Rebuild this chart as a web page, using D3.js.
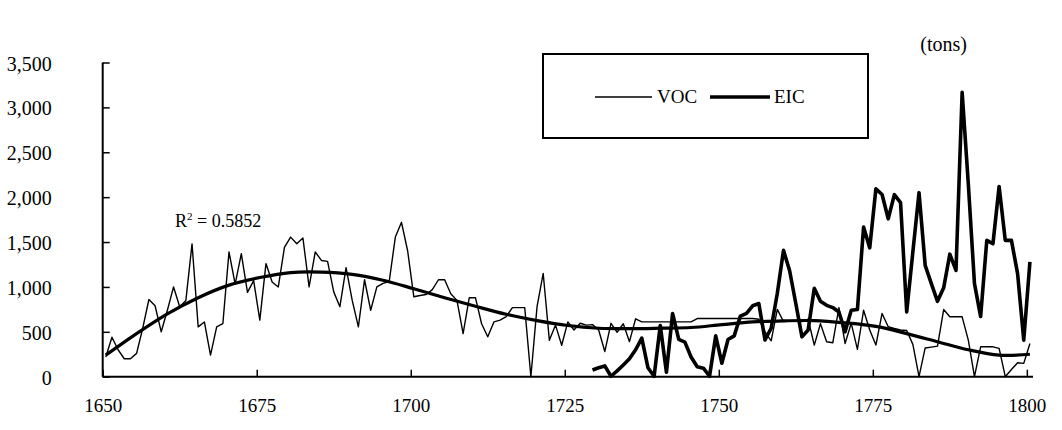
<!DOCTYPE html>
<html>
<head>
<meta charset="utf-8">
<script src="https://cdn.jsdelivr.net/npm/d3@7"></script>
<style>
  html, body { margin: 0; padding: 0; background: #fff; }
  svg { display: block; }
  text { font-family: "Liberation Serif", "Times New Roman", serif; fill: #000; }
</style>
</head>
<body>
<svg id="chart" width="1062" height="430"></svg>
<script>
// ---- data ----
const vocStartYear = 1650;
const vocValues = [
  220, 440, 300, 200, 200, 260, 540, 860, 790, 500,      // 1650-1659
  740, 1000, 780, 850, 1480, 555, 610, 240, 555, 590,    // 1660-1669
  1390, 1030, 1370, 940, 1070, 630, 1260, 1055, 1000, 1440, // 1670-1679
  1555, 1480, 1545, 1000, 1390, 1295, 1285, 945, 780, 1215, // 1680-1689
  850, 555, 1080, 740, 1000, 1040, 1060, 1555, 1720, 1400,  // 1690-1699
  890, 905, 915, 970, 1080, 1080, 925, 850, 480, 880,    // 1700-1709
  880, 590, 445, 610, 630, 670, 770, 770, 770, 0,        // 1710-1719
  780, 1150, 405, 575, 350, 610, 520, 595, 575, 580,     // 1720-1729
  520, 280, 595, 495, 590, 390, 645, 611, 611, 611,      // 1730-1739
  611, 611, 611, 611, 611, 611, 648, 648, 648, 648,      // 1740-1749
  648, 648, 648, 648, 648, 648, 640, 500, 400, 750,      // 1750-1759
  615, 620, 620, 615, 640, 352, 590, 389, 378, 770,      // 1760-1769
  370, 595, 304, 740, 520, 352, 704, 556, 537, 520,      // 1770-1779
  515, 360, 0, 320, 330, 340, 748, 667, 667, 667,        // 1780-1789
  407, 0, 333, 333, 333, 315, 0, 80, 155, 148,           // 1790-1799
  370                                                    // 1800
];
const eicStartYear = 1729;
const eicValues = [
  75,                                                    // 1729
  100, 120, 5, 65, 130, 200, 300, 430, 100, 5,           // 1730-1739
  570, 50, 704, 415, 385, 220, 110, 95, 5, 455,          // 1740-1749
  150, 415, 455, 675, 705, 790, 815, 410, 540, 930,      // 1750-1759
  1407, 1180, 815, 444, 520, 985, 840, 795, 770, 720,    // 1760-1769
  500, 741, 748, 1667, 1435, 2093, 2030, 1759, 2028, 1940, // 1770-1779
  722, 1390, 2050, 1240, 1037, 840, 990, 1365, 1185, 3167, // 1780-1789
  2148, 1037, 670, 1519, 1481, 2119, 1519, 1519, 1148, 407, // 1790-1799
  1278                                                   // 1800
];
// polynomial trendline of VOC (every 5 years)
const trendYears = [1650,1655,1660,1665,1670,1675,1680,1685,1690,1695,1700,1705,1710,1715,1720,1725,1730,1735,1740,1745,1750,1755,1760,1765,1770,1775,1780,1785,1790,1795,1800];
const trendValues = [240,480,700,880,1020,1105,1160,1165,1140,1075,980,880,785,695,625,570,540,535,540,548,580,610,622,625,600,560,480,390,300,240,250];

const xTickYears = [1650, 1675, 1700, 1725, 1750, 1775, 1800];
const yTickValues = [0, 500, 1000, 1500, 2000, 2500, 3000, 3500];
const seriesNames = ["VOC", "EIC"];
const unitLabel = "(tons)";
const r2Label = "0.5852";

// ---- build ----
const voc = vocValues.map((v, i) => ({ year: vocStartYear + i, value: v }));
const eic = eicValues.map((v, i) => ({ year: eicStartYear + i, value: v }));
const trend = trendYears.map((yr, i) => ({ year: yr, value: trendValues[i] }));

const svg = d3.select("#chart");
const x = d3.scaleLinear().domain([1650, 1801]).range([102.7, 1033]);
const y = d3.scaleLinear().domain([0, 3500]).range([376.7, 62.5]);
const px = d => x(d.year + 0.5);

// axes
const yAxis = d3.axisLeft(y)
  .tickValues(yTickValues)
  .tickFormat(d3.format(","))
  .tickSizeInner(-7)
  .tickSizeOuter(0)
  .tickPadding(51);
const gy = svg.append("g").attr("transform", "translate(102.7,0)").call(yAxis);
gy.select(".domain").attr("stroke", "#000").attr("stroke-width", 2)
  .attr("d", `M0,${y(3500)}V${y(0)}`);
gy.selectAll(".tick line").attr("stroke", "#000").attr("stroke-width", 1.5);
gy.selectAll(".tick text")
  .style("font-family", "'Liberation Serif', serif")
  .style("font-size", "20px")
  .attr("fill", "#000")
  .attr("dy", "0.38em");

const xAxis = d3.axisBottom(x)
  .tickValues(xTickYears)
  .tickFormat(d3.format("d"))
  .tickSizeInner(-7)
  .tickSizeOuter(0)
  .tickPadding(32);
const gx = svg.append("g").attr("transform", `translate(0,${y(0)})`).call(xAxis);
gx.select(".domain").attr("stroke", "#000").attr("stroke-width", 2)
  .attr("d", `M${x(1650)},0H${x(1801)}`);
gx.selectAll(".tick line").attr("stroke", "#000").attr("stroke-width", 1.5);
gx.selectAll(".tick text")
  .style("font-family", "'Liberation Serif', serif")
  .style("font-size", "19px")
  .attr("fill", "#000")
  .attr("dy", "0.2em");

// lines
const line = d3.line().x(px).y(d => y(d.value));
const trendLine = d3.line().x(d => x(d.year + 0.5)).y(d => y(d.value)).curve(d3.curveCatmullRom.alpha(0.5));

svg.append("path").datum(voc)
  .attr("fill", "none").attr("stroke", "#000").attr("stroke-width", 1.4)
  .attr("stroke-linejoin", "round").attr("d", line);
svg.append("path").datum(trend)
  .attr("fill", "none").attr("stroke", "#000").attr("stroke-width", 3.2)
  .attr("stroke-linejoin", "round").attr("d", trendLine);
svg.append("path").datum(eic)
  .attr("fill", "none").attr("stroke", "#000").attr("stroke-width", 3.6)
  .attr("stroke-linejoin", "round").attr("d", line);

// R^2 label
const r2 = svg.append("text").attr("x", 175).attr("y", 227).style("font-size", "18px");
r2.append("tspan").text("R");
r2.append("tspan").attr("dy", -7).style("font-size", "11px").text("2");
r2.append("tspan").attr("dy", 7).text(" = " + r2Label);

// unit label
svg.append("text").attr("x", 967).attr("y", 51).attr("text-anchor", "end")
  .style("font-size", "20px").text(unitLabel);

// legend
const lg = svg.append("g");
lg.append("rect").attr("x", 543).attr("y", 54).attr("width", 325).attr("height", 84)
  .attr("fill", "#fff").attr("stroke", "#000").attr("stroke-width", 2);
const legendItems = [
  { name: seriesNames[0], x1: 595, x2: 652, tx: 657, w: 1.4 },
  { name: seriesNames[1], x1: 710, x2: 770, tx: 774, w: 3.6 }
];
legendItems.forEach(it => {
  lg.append("line").attr("x1", it.x1).attr("x2", it.x2).attr("y1", 97).attr("y2", 97)
    .attr("stroke", "#000").attr("stroke-width", it.w);
  lg.append("text").attr("x", it.tx).attr("y", 103).style("font-size", "19px").text(it.name);
});
</script>
</body>
</html>
